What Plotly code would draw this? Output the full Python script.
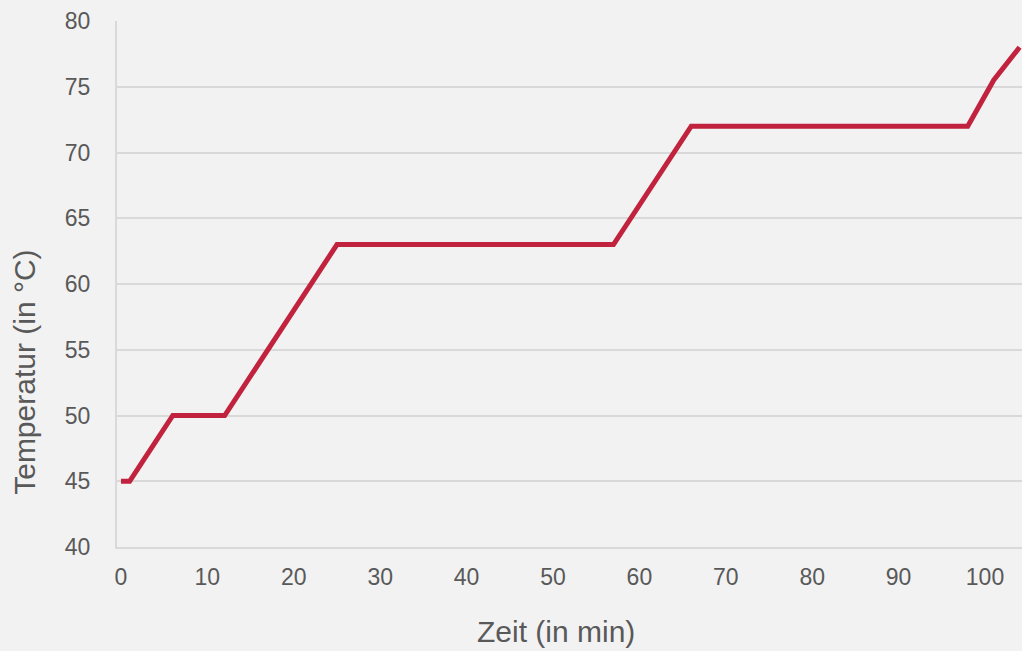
import plotly.graph_objects as go

zeit = [0, 1, 3.5, 6, 12, 16, 19.5, 25, 57, 60.5, 66, 98, 101, 104]
temperatur = [45, 45, 47.5, 50, 50, 54, 57.5, 63, 63, 66.5, 72, 72, 75.5, 78]

x_ticks = [0, 10, 20, 30, 40, 50, 60, 70, 80, 90, 100]
y_ticks = [40, 45, 50, 55, 60, 65, 70, 75, 80]

x_title = "Zeit (in min)"
y_title = "Temperatur (in °C)"

bg = "#f2f2f2"
grid = "#d9d9d9"
txt = "#595959"

fig = go.Figure()
fig.add_trace(go.Scatter(
    x=zeit, y=temperatur, mode="lines",
    line=dict(color="#c1233f", width=5),
    showlegend=False, hoverinfo="skip",
))

fig.update_layout(
    width=1022, height=651,
    paper_bgcolor=bg, plot_bgcolor=bg,
    margin=dict(l=117, r=0, t=21, b=104, autoexpand=False),
    font=dict(family="Liberation Sans, Arial, sans-serif", color=txt, size=23),
)
fig.update_xaxes(
    range=[-0.46, 104.28], tickvals=x_ticks, showgrid=False, zeroline=False,
    showline=True, linecolor=grid, linewidth=2,
    ticks="outside", ticklen=8, tickcolor="rgba(0,0,0,0)",
    tickfont=dict(size=23, color=txt), automargin=False,
)
fig.update_yaxes(
    range=[40, 80], tickvals=y_ticks, showgrid=True, gridcolor=grid, gridwidth=2,
    zeroline=False, showline=True, linecolor=grid, linewidth=2,
    ticks="outside", ticklen=20, tickcolor="rgba(0,0,0,0)",
    tickfont=dict(size=23, color=txt), automargin=False,
)

fig.add_annotation(
    text=x_title, xref="paper", yref="paper", x=0.485, y=-0.16,
    xanchor="center", yanchor="middle", showarrow=False,
    font=dict(size=30, color=txt),
)
fig.add_annotation(
    text=y_title, xref="paper", yref="paper", x=-0.1017, y=0.333,
    xanchor="center", yanchor="middle", showarrow=False, textangle=-90,
    font=dict(size=30, color=txt),
)

fig.write_html(
    "out.html",
    config={"displayModeBar": False},
    post_script="document.body.style.margin='0';document.body.style.overflow='hidden';",
)
